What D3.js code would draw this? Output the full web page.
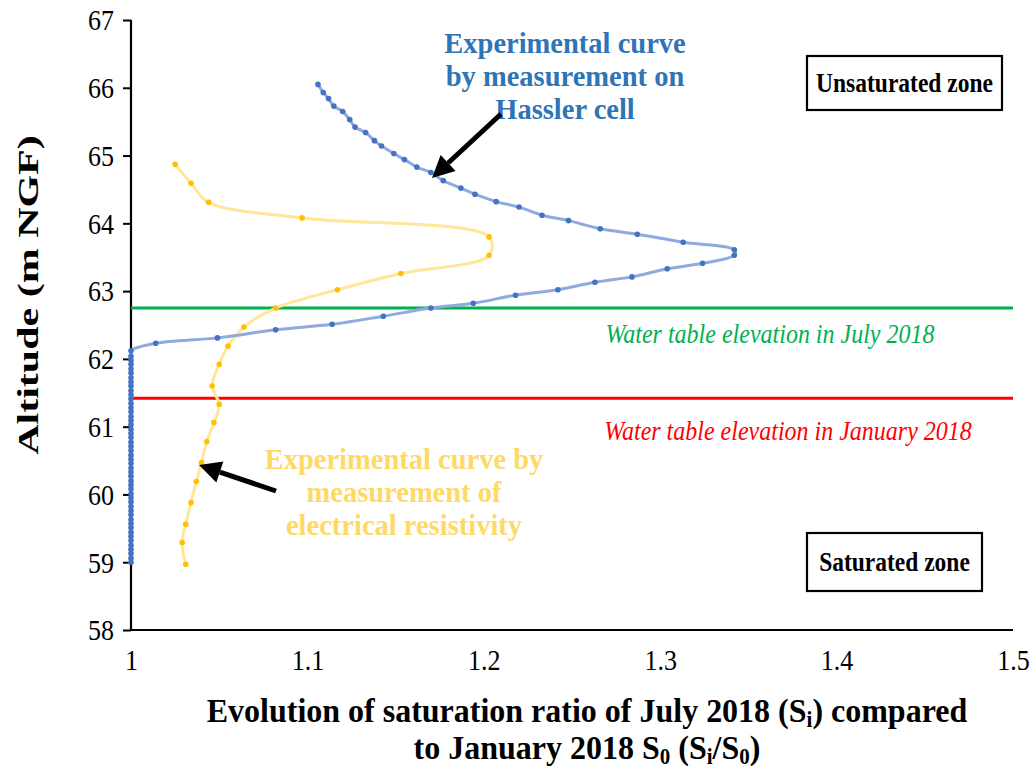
<!DOCTYPE html>
<html>
<head>
<meta charset="utf-8">
<script src="https://cdn.jsdelivr.net/npm/d3@7"></script>
<style>
  html, body { margin: 0; padding: 0; background: #fff; }
  svg { display: block; font-family: "Liberation Serif", "Times New Roman", serif; }
</style>
</head>
<body>
<svg id="chart" width="1031" height="769"></svg>
<script>
// Hassler cell measurements: saturation ratio Si/S0 vs altitude (m NGF)
const hasslerRatio = [
  1.106, 1.109, 1.112, 1.115, 1.120, 1.124, 1.127, 1.133, 1.138, 1.142,
  1.149, 1.155, 1.162, 1.170, 1.177, 1.187, 1.195, 1.207, 1.220, 1.233,
  1.248, 1.266, 1.287, 1.313, 1.342, 1.342, 1.324, 1.304, 1.284, 1.263,
  1.242, 1.218, 1.194, 1.170, 1.143, 1.114, 1.082, 1.049, 1.014
];
const hasslerAltitude = [
  66.05, 65.93, 65.84, 65.73, 65.65, 65.53, 65.42, 65.34, 65.22, 65.14,
  65.03, 64.94, 64.83, 64.75, 64.63, 64.52, 64.43, 64.32, 64.24, 64.12,
  64.04, 63.92, 63.84, 63.72, 63.61, 63.53, 63.41, 63.33, 63.21, 63.13,
  63.02, 62.94, 62.82, 62.75, 62.63, 62.51, 62.43, 62.31, 62.23
];
// Below the capillary fringe the ratio stays at 1
const saturatedRatio = 1;
const saturatedAltitude = [
  62.12, 62.04, 61.98, 61.92, 61.85, 61.79, 61.72, 61.66, 61.60, 61.53,
  61.47, 61.41, 61.34, 61.28, 61.22, 61.15, 61.09, 61.03, 60.96, 60.90,
  60.84, 60.77, 60.71, 60.65, 60.58, 60.52, 60.46, 60.39, 60.33, 60.27,
  60.20, 60.14, 60.08, 60.01, 59.95, 59.89, 59.82, 59.76, 59.70, 59.63,
  59.57, 59.51, 59.44, 59.38, 59.32, 59.25, 59.19, 59.13, 59.06, 59.00
];

// Electrical resistivity measurements
const resistivityRatio = [
  1.025, 1.034, 1.044, 1.097, 1.203, 1.203, 1.153, 1.117, 1.082, 1.064,
  1.055, 1.050, 1.046, 1.050, 1.047, 1.043, 1.040, 1.037, 1.034, 1.031,
  1.029, 1.031
];
const resistivityAltitude = [
  64.87, 64.59, 64.31, 64.08, 63.80, 63.53, 63.26, 63.02, 62.75, 62.47,
  62.19, 61.92, 61.60, 61.33, 61.06, 60.78, 60.47, 60.19, 59.88, 59.56,
  59.29, 58.97
];

// Water table elevations
const waterTableJuly = 62.75;
const waterTableJanuary = 61.42;

const xTicks = [1, 1.1, 1.2, 1.3, 1.4, 1.5];
const xTickLabels = ["1", "1.1", "1.2", "1.3", "1.4", "1.5"];
const yTicks = [58, 59, 60, 61, 62, 63, 64, 65, 66, 67];

const svg = d3.select("#chart");
const plotLeft = 131, plotRight = 1013, plotTop = 20, plotBottom = 630;
const stretch = 1.15;   // tall, narrow lettering

const x = d3.scaleLinear().domain([1, 1.5]).range([plotLeft, plotRight]);
const y = d3.scaleLinear().domain([58, 67]).range([plotBottom, plotTop]);

// Text centred on (cx, cy), vertically stretched
function label(cx, cy, str, size, opts = {}) {
  const sy = opts.sy || stretch;
  const t = svg.append("text")
    .attr("transform", `translate(${cx},${cy}) scale(1,${sy})`)
    .attr("y", 0).attr("dy", "0.33em")
    .attr("text-anchor", opts.anchor || "middle")
    .attr("font-size", size)
    .attr("font-weight", opts.weight || "normal")
    .attr("font-style", opts.style || "normal")
    .attr("fill", opts.fill || "#000");
  if (str !== null) t.text(str);
  return t;
}

// Axes
const yAxis = svg.append("g")
  .attr("transform", `translate(${plotLeft},0)`)
  .call(d3.axisLeft(y).tickValues(yTicks).tickSize(8).tickPadding(9).tickFormat(d3.format("d")));
yAxis.select(".domain").attr("stroke", "#000").attr("stroke-width", 2.2).attr("d", `M0,${plotBottom}V${plotTop}`);
yAxis.selectAll(".tick line").attr("stroke", "#000").attr("stroke-width", 2);
yAxis.selectAll(".tick text")
  .attr("font-size", 26).attr("fill", "#000")
  .attr("font-family", "Liberation Serif")
  .attr("x", -17).attr("y", 0).attr("dy", "0.33em")
  .attr("transform", `scale(1,${stretch})`);

const xAxis = svg.append("g")
  .attr("transform", `translate(0,${plotBottom})`)
  .call(d3.axisBottom(x).tickValues(xTicks).tickSize(0).tickPadding(18)
    .tickFormat((d, i) => xTickLabels[i]));
xAxis.select(".domain").attr("stroke", "#000").attr("stroke-width", 2.2).attr("d", `M${plotLeft},0H${plotRight}`);
xAxis.selectAll(".tick text")
  .attr("font-size", 26).attr("fill", "#000")
  .attr("font-family", "Liberation Serif")
  .attr("y", 0).attr("dy", "0.33em")
  .attr("transform", `translate(0,30) scale(1,${stretch})`);

// Water table lines
svg.append("line")
  .attr("x1", x(1)).attr("x2", x(1.5))
  .attr("y1", y(waterTableJuly)).attr("y2", y(waterTableJuly))
  .attr("stroke", "#00b050").attr("stroke-width", 3);
svg.append("line")
  .attr("x1", x(1)).attr("x2", x(1.5))
  .attr("y1", y(waterTableJanuary)).attr("y2", y(waterTableJanuary))
  .attr("stroke", "#ff0000").attr("stroke-width", 3);

label(770, y(waterTableJuly) + 26, "Water table elevation in July 2018", 24,
  { style: "italic", fill: "#00b050" });
label(788, y(waterTableJanuary) + 33, "Water table elevation in January 2018", 24,
  { style: "italic", fill: "#ff0000" });

// Smoothed curves
const line = d3.line()
  .x(d => x(d[0])).y(d => y(d[1]))
  .curve(d3.curveCatmullRom.alpha(0.5));

const hasslerPts = hasslerRatio.map((r, i) => [r, hasslerAltitude[i]])
  .concat(saturatedAltitude.map(a => [saturatedRatio, a]));
const resistivityPts = resistivityRatio.map((r, i) => [r, resistivityAltitude[i]]);

svg.append("path").datum(resistivityPts)
  .attr("d", line).attr("fill", "none")
  .attr("stroke", "#ffe699").attr("stroke-width", 3);
svg.selectAll("circle.res").data(resistivityPts).join("circle")
  .attr("class", "res")
  .attr("cx", d => x(d[0])).attr("cy", d => y(d[1])).attr("r", 2.8)
  .attr("fill", "#ffc000");

svg.append("path").datum(hasslerPts)
  .attr("d", line).attr("fill", "none")
  .attr("stroke", "#8faadc").attr("stroke-width", 3);
svg.selectAll("circle.has").data(hasslerPts).join("circle")
  .attr("class", "has")
  .attr("cx", d => x(d[0])).attr("cy", d => y(d[1])).attr("r", 2.8)
  .attr("fill", "#4472c4");

// Axis titles
svg.append("text")
  .attr("transform", `translate(28,${(plotTop + plotBottom) / 2 - 30}) rotate(-90) scale(1.4,1)`)
  .attr("y", 0).attr("dy", "0.33em")
  .attr("text-anchor", "middle").attr("font-weight", "bold")
  .attr("font-size", 30).attr("fill", "#000")
  .text("Altitude (m NGF)");

const xt1 = label(587, 711, null, 32, { weight: "bold", sy: 1.05 });
xt1.append("tspan").text("Evolution of saturation ratio of July 2018 (S");
xt1.append("tspan").attr("font-size", 21).attr("dy", 5).text("i");
xt1.append("tspan").attr("dy", -5).text(") compared");

const xt2 = label(587, 748, null, 32, { weight: "bold", sy: 1.05 });
xt2.append("tspan").text("to January 2018 S");
xt2.append("tspan").attr("font-size", 21).attr("dy", 5).text("0");
xt2.append("tspan").attr("dy", -5).text(" (S");
xt2.append("tspan").attr("font-size", 21).attr("dy", 5).text("i");
xt2.append("tspan").attr("dy", -5).text("/S");
xt2.append("tspan").attr("font-size", 21).attr("dy", 5).text("0");
xt2.append("tspan").attr("dy", -5).text(")");

// Curve annotations
const blueNote = ["Experimental curve", "by measurement on", "Hassler cell"];
blueNote.forEach((s, i) =>
  label(565, 44 + i * 33, s, 28.5, { weight: "bold", fill: "#2e75b6", sy: 1.0 }));

const yellowNote = ["Experimental curve by", "measurement of", "electrical resistivity"];
yellowNote.forEach((s, i) =>
  label(404, 460 + i * 33, s, 28.5, { weight: "bold", fill: "#ffd966", sy: 1.0 }));

// Arrows
function arrow(x1, y1, x2, y2) {
  const ang = Math.atan2(y2 - y1, x2 - x1);
  const headLen = 22, headW = 11;
  const bx = x2 - headLen * Math.cos(ang), by = y2 - headLen * Math.sin(ang);
  svg.append("line")
    .attr("x1", x1).attr("y1", y1).attr("x2", bx).attr("y2", by)
    .attr("stroke", "#000").attr("stroke-width", 5);
  const px = -Math.sin(ang), py = Math.cos(ang);
  svg.append("path")
    .attr("d", `M${x2},${y2}L${bx + px * headW},${by + py * headW}L${bx - px * headW},${by - py * headW}Z`)
    .attr("fill", "#000");
}
arrow(501, 114, 432, 178);
arrow(276, 491, 199, 465);

// Zone boxes
function zoneBox(x0, y0, w, h, text) {
  svg.append("rect").attr("x", x0).attr("y", y0).attr("width", w).attr("height", h)
    .attr("fill", "#fff").attr("stroke", "#000").attr("stroke-width", 2.2);
  label(x0 + w / 2, y0 + h / 2, text, 23.5, { weight: "bold" });
}
zoneBox(807, 56, 195, 54, "Unsaturated zone");
zoneBox(807, 533, 175, 58, "Saturated zone");
</script>
</body>
</html>
